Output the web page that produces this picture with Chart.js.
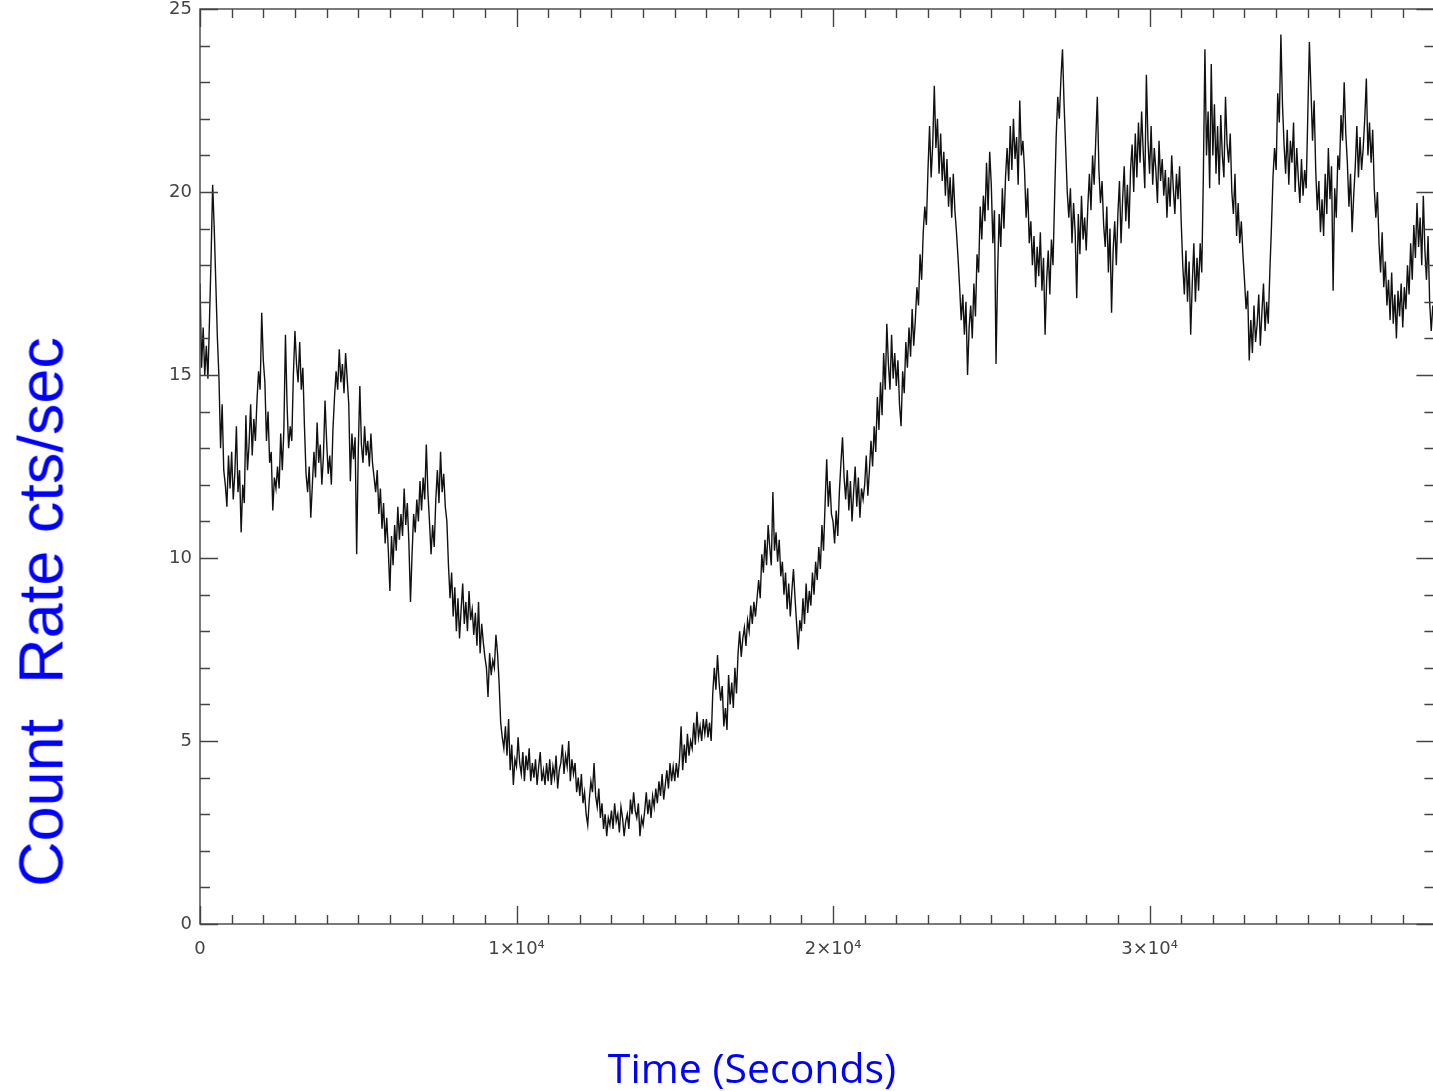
<!DOCTYPE html>
<html>
<head>
<meta charset="utf-8">
<title>Count Rate light curve</title>
<script src="https://cdn.jsdelivr.net/npm/chart.js@4/dist/chart.umd.min.js"></script>
<style>
  html, body { margin: 0; padding: 0; background: #ffffff; overflow: hidden; }
  #wrap { position: relative; width: 1433px; height: 1091px; overflow: hidden; background: #ffffff; }
  #plot { position: absolute; left: 0; top: 0; }
  .ytitle {
    position: absolute; left: 41px; top: 612px;
    font-family: "Liberation Sans", Arial, sans-serif; font-size: 63px; line-height: 1;
    color: #0000ff; white-space: pre;
    transform: translate(-50%, -50%) rotate(-90deg);
  }
  .xtitle {
    position: absolute; left: 752px; top: 1067px;
    font-family: "Open Sans", "Noto Sans", sans-serif; font-size: 41px; line-height: 1;
    color: #0000ff; white-space: pre;
    transform: translate(-50%, -50%);
  }
</style>
</head>
<body>
<div id="wrap">
  <canvas id="plot" width="1440" height="1091"></canvas>
  <div class="ytitle">Count  Rate cts/sec</div>
  <div class="xtitle">Time (Seconds)</div>
</div>
<script>
// Light curve: count rate in 50 s bins, starting at t = 0 s.
const binSeconds = 50;
const countRate = [
  // 0 - 950 s
  17.5, 15.2, 16.3, 15.0, 15.8, 14.9, 16.5, 18.2, 20.2, 19.0, 17.5, 16.0, 14.9, 13.0, 14.2, 12.4, 12.0, 11.4, 12.8, 11.9,
  // 1000 - 1950 s
  12.9, 11.6, 12.3, 13.6, 11.8, 12.4, 10.7, 12.0, 11.5, 13.9, 12.4, 13.1, 14.2, 12.8, 13.8, 13.2, 14.3, 15.1, 14.6, 16.7,
  // 2000 - 2950 s
  15.4, 14.8, 13.2, 14.0, 12.6, 12.9, 11.3, 12.2, 11.9, 12.5, 11.9, 13.4, 12.4, 13.5, 16.1, 14.2, 13.0, 13.6, 13.2, 15.0,
  // 3000 - 3950 s
  16.2, 15.3, 14.8, 15.9, 14.6, 15.2, 13.6, 12.3, 11.8, 12.5, 11.1, 12.0, 12.9, 12.2, 13.7, 12.6, 13.1, 12.0, 12.8, 14.3,
  // 4000 - 4950 s
  13.2, 12.3, 12.8, 12.0, 13.5, 14.4, 15.1, 14.6, 15.7, 14.8, 15.3, 14.5, 15.6, 14.9, 14.2, 12.1, 13.4, 12.7, 13.3, 10.1,
  // 5000 - 5950 s
  12.9, 14.7, 13.1, 12.6, 13.6, 12.8, 13.2, 12.5, 13.4, 12.6, 12.2, 11.8, 12.4, 11.2, 11.9, 10.8, 11.5, 10.4, 11.1, 10.2,
  // 6000 - 6950 s
  9.1, 10.6, 9.8, 10.9, 10.2, 11.4, 10.5, 11.2, 10.6, 11.9, 10.9, 11.5, 10.4, 8.8, 10.1, 11.2, 10.7, 11.6, 11.0, 12.1,
  // 7000 - 7950 s
  11.3, 12.2, 11.6, 13.1, 11.8, 11.0, 10.1, 10.9, 10.3, 11.6, 12.4, 11.5, 12.9, 11.8, 12.3, 11.4, 11.0, 9.8, 8.9, 9.6,
  // 8000 - 8950 s
  8.4, 9.2, 8.0, 8.9, 7.8, 8.6, 9.3, 8.2, 8.8, 8.0, 9.1, 8.3, 8.6, 7.9, 8.5, 7.6, 8.8, 7.4, 8.2, 7.7,
  // 9000 - 9950 s
  7.3, 7.0, 6.2, 7.4, 6.8, 7.2, 7.0, 7.9, 7.4, 6.6, 5.5, 5.1, 4.8, 5.4, 4.6, 5.6, 4.2, 4.9, 3.8, 4.5,
  // 10000 - 10950 s
  4.3, 5.1, 4.4, 4.1, 4.7, 3.9, 4.6, 4.2, 4.8, 3.9, 4.4, 4.0, 4.5, 3.8, 4.3, 4.7, 3.9, 4.2, 3.8, 4.4,
  // 11000 - 11950 s
  3.9, 4.5, 3.8, 4.3, 4.0, 4.6, 3.7, 4.2, 4.4, 4.9, 4.1, 4.6, 4.3, 5.0, 3.9, 4.5, 4.1, 4.4, 3.6, 4.0,
  // 12000 - 12950 s
  3.5, 4.1, 3.3, 3.6, 3.0, 2.7, 3.4, 3.9, 3.6, 4.4, 3.5, 3.2, 3.7, 2.9, 3.3, 2.6, 3.0, 2.4, 2.9, 2.7,
  // 13000 - 13950 s
  3.1, 2.6, 3.3, 2.8, 3.0, 2.5, 3.2, 2.9, 2.4, 2.8, 3.0, 2.6, 3.4, 3.0, 3.6, 3.1, 2.9, 3.3, 2.4, 2.9,
  // 14000 - 14950 s
  2.7, 3.1, 3.6, 3.0, 3.4, 2.9, 3.5, 3.2, 3.7, 3.3, 3.9, 3.5, 4.1, 3.4, 3.8, 4.2, 3.7, 4.4, 3.9, 4.3,
  // 15000 - 15950 s
  3.9, 4.4, 4.0, 4.5, 5.4, 4.2, 4.9, 4.4, 5.2, 4.6, 5.0, 4.8, 5.5, 4.9, 5.8, 5.1, 5.4, 5.0, 5.6, 5.2,
  // 16000 - 16950 s
  5.6, 5.1, 5.5, 5.0, 6.3, 7.0, 6.4, 7.35, 6.6, 6.1, 6.5, 5.4, 5.9, 5.3, 6.8, 6.0, 6.6, 5.9, 7.0, 6.3,
  // 17000 - 17950 s
  7.4, 8.0, 7.3, 7.8, 8.1, 7.6, 8.3, 8.0, 8.7, 8.2, 8.8, 8.4, 8.9, 9.4, 8.9, 10.1, 9.6, 10.5, 9.8, 10.9,
  // 18000 - 18950 s
  10.3, 9.8, 11.8, 10.2, 10.7, 9.9, 10.5, 9.5, 9.9, 9.0, 9.6, 8.6, 9.3, 8.4, 9.1, 9.7, 8.9, 8.2, 7.5, 8.3,
  // 19000 - 19950 s
  8.0, 8.9, 8.2, 9.3, 8.5, 9.1, 8.7, 9.6, 9.0, 9.9, 9.4, 10.3, 9.7, 10.9, 10.2, 11.5, 12.7, 11.4, 12.1, 11.2,
  // 20000 - 20950 s
  11.0, 10.4, 11.3, 10.6, 11.8, 12.6, 13.3, 12.2, 11.6, 12.4, 11.3, 12.1, 11.0, 11.8, 12.5, 11.4, 12.2, 11.1, 11.9, 11.6,
  // 21000 - 21950 s
  12.0, 12.8, 11.7, 12.4, 13.2, 12.5, 13.6, 12.9, 14.4, 13.5, 14.8, 13.9, 15.6, 14.6, 16.4, 15.3, 14.6, 16.1, 14.9, 15.6,
  // 22000 - 22950 s
  14.7, 15.4, 14.2, 13.6, 15.1, 14.5, 15.9, 15.2, 16.3, 15.5, 16.8, 15.8, 16.5, 17.4, 16.9, 18.3, 17.6, 18.9, 19.6, 19.1,
  // 23000 - 23950 s
  20.6, 21.8, 20.4, 21.3, 22.9, 21.2, 22.0, 20.5, 21.6, 20.3, 21.1, 19.9, 20.9, 19.6, 20.4, 19.3, 20.5, 19.5, 18.9, 18.2,
  // 24000 - 24950 s
  17.4, 16.5, 17.2, 16.1, 17.0, 15.0, 16.3, 16.9, 16.0, 17.5, 16.6, 18.3, 17.8, 19.6, 18.7, 19.9, 19.2, 20.8, 19.5, 21.1,
  // 25000 - 25950 s
  20.2, 18.6, 19.5, 15.3, 17.8, 19.4, 18.5, 20.1, 19.0, 20.4, 21.2, 20.3, 21.8, 20.6, 22.0, 20.9, 21.5, 20.2, 22.5, 21.0,
  // 26000 - 26950 s
  21.4, 20.6, 19.3, 20.1, 18.6, 19.2, 18.0, 18.8, 17.4, 18.5, 17.7, 18.9, 17.3, 18.2, 16.1, 17.6, 18.4, 17.2, 18.7, 18.0,
  // 27000 - 27950 s
  19.8, 21.5, 22.6, 22.0, 23.1, 23.9, 22.4, 21.2, 20.0, 19.3, 20.1, 18.6, 19.7, 18.9, 17.1, 19.4, 18.3, 19.9, 18.7, 19.3,
  // 28000 - 28950 s
  18.4, 19.6, 20.5, 19.5, 21.0, 20.2, 21.4, 22.6, 20.6, 19.7, 20.3, 19.1, 18.5, 19.6, 17.8, 19.0, 16.7, 18.4, 19.2, 18.0,
  // 29000 - 29950 s
  19.4, 20.3, 18.6, 19.8, 20.7, 19.2, 20.2, 19.0, 20.6, 21.3, 20.0, 21.6, 20.4, 21.9, 20.8, 22.2, 21.1, 20.1, 23.2, 21.4,
  // 30000 - 30950 s
  20.5, 21.8, 20.2, 21.2, 20.6, 19.7, 21.4, 20.3, 20.9, 19.9, 20.6, 19.3, 20.4, 19.6, 21.0, 20.1, 19.4, 20.5, 19.8, 20.7,
  // 31000 - 31950 s
  19.2, 18.0, 17.2, 18.4, 17.0, 18.1, 16.1, 17.5, 18.6, 17.0, 18.2, 17.3, 18.6, 17.8, 20.4, 23.9, 21.0, 22.2, 20.1, 23.5,
  // 32000 - 32950 s
  21.0, 22.4, 20.5, 21.8, 20.2, 22.1, 21.0, 20.4, 22.6, 21.3, 20.8, 21.6, 20.0, 19.4, 20.5, 18.8, 19.7, 18.6, 19.2, 18.3,
  // 33000 - 33950 s
  17.6, 16.8, 17.3, 15.4, 16.5, 15.6, 16.9, 15.9, 16.4, 17.2, 15.8, 16.7, 17.5, 16.2, 17.0, 16.4, 17.8, 19.0, 20.4, 21.2,
  // 34000 - 34950 s
  20.6, 22.7, 21.9, 24.3, 22.4, 21.3, 20.5, 21.7, 20.2, 21.4, 20.8, 21.9, 20.0, 21.2, 20.4, 19.7, 20.9, 19.9, 20.6, 20.1,
  // 35000 - 35950 s
  22.1, 24.1, 22.8, 21.4, 22.5, 20.6, 19.5, 20.3, 18.9, 19.8, 18.8, 20.5, 19.4, 21.2, 19.8, 20.7, 17.3, 20.1, 19.3, 21.0,
  // 36000 - 36950 s
  20.6, 22.1, 21.4, 23.0, 21.6, 20.8, 19.6, 20.5, 18.9, 19.9, 20.7, 21.8, 20.4, 21.5, 20.6, 21.2, 22.0, 23.1, 21.0, 21.9,
  // 37000 - 37950 s
  20.8, 21.7, 20.1, 19.3, 20.0, 18.6, 17.8, 18.9, 17.4, 18.1, 16.9, 17.6, 16.5, 17.8, 16.4, 17.2, 16.0, 17.3, 16.6, 17.5,
  // 38000 - 38950 s
  16.3, 17.4, 16.8, 18.0, 17.2, 18.6, 17.6, 19.1, 18.2, 19.7, 18.5, 19.3, 18.0, 19.9, 18.4, 17.6, 18.8, 17.0, 16.2, 16.9
];

// Axis ranges and ticks
const timeRange = [0, 39000];
const rateRange = [0, 25];
const timeTickValues = [0, 10000, 20000, 30000];
const timeTickLabels = ['0', '1\u00d710\u2074', '2\u00d710\u2074', '3\u00d710\u2074'];
const rateTickValues = [0, 5, 10, 15, 20, 25];
const rateTickLabels = ['0', '5', '10', '15', '20', '25'];
const timeMinorStep = 1000;
const rateMinorStep = 1;

const points = countRate.map((v, i) => ({ x: i * binSeconds, y: v }));

// Box frame with inward-pointing major and minor ticks on all four sides
const frameTicks = {
  id: 'frameTicks',
  afterDatasetsDraw(chart) {
    const { ctx, chartArea: a, scales } = chart;
    const xs = scales.x, ys = scales.y;
    ctx.save();
    ctx.strokeStyle = '#444';
    ctx.lineWidth = 1.4;
    ctx.strokeRect(a.left, a.top, a.right - a.left, a.bottom - a.top);
    ctx.beginPath();
    for (let t = timeRange[0]; t <= timeRange[1]; t += timeMinorStep) {
      const px = Math.round(xs.getPixelForValue(t)) + 0.5;
      const len = timeTickValues.includes(t) ? 18 : 9;
      ctx.moveTo(px, a.bottom); ctx.lineTo(px, a.bottom - len);
      ctx.moveTo(px, a.top); ctx.lineTo(px, a.top + len);
    }
    for (let v = rateRange[0]; v <= rateRange[1]; v += rateMinorStep) {
      const py = Math.round(ys.getPixelForValue(v)) + 0.5;
      const len = rateTickValues.includes(v) ? 18 : 10;
      ctx.moveTo(a.left, py); ctx.lineTo(a.left + len, py);
      ctx.moveTo(a.right, py); ctx.lineTo(a.right - len, py);
    }
    ctx.stroke();
    ctx.restore();
  }
};

const tickFont = { family: 'DejaVu Sans', size: 18 };

new Chart(document.getElementById('plot'), {
  type: 'line',
  data: {
    datasets: [{
      data: points,
      borderColor: '#111111',
      borderWidth: 1.4,
      pointRadius: 0,
      tension: 0,
      fill: false
    }]
  },
  options: {
    responsive: false,
    animation: false,
    devicePixelRatio: 1,
    parsing: false,
    normalized: true,
    layout: { padding: { left: 0, top: 9, right: 5.6, bottom: 0 } },
    plugins: { legend: { display: false }, tooltip: { enabled: false } },
    scales: {
      x: {
        type: 'linear',
        min: timeRange[0],
        max: timeRange[1],
        afterBuildTicks: s => { s.ticks = timeTickValues.map(v => ({ value: v })); },
        afterFit: s => { s.height = 167; s.paddingLeft = 0; s.paddingRight = 0; },
        grid: { display: false, drawTicks: false },
        border: { display: false },
        ticks: {
          autoSkip: false, maxRotation: 0, padding: 15,
          color: '#444', font: tickFont,
          callback: v => timeTickLabels[timeTickValues.indexOf(v)]
        }
      },
      y: {
        type: 'linear',
        min: rateRange[0],
        max: rateRange[1],
        afterBuildTicks: s => { s.ticks = rateTickValues.map(v => ({ value: v })); },
        afterFit: s => { s.width = 200; s.paddingTop = 0; s.paddingBottom = 0; },
        grid: { display: false, drawTicks: false },
        border: { display: false },
        ticks: {
          autoSkip: false, padding: 8,
          color: '#444', font: tickFont,
          callback: v => rateTickLabels[rateTickValues.indexOf(v)]
        }
      }
    }
  },
  plugins: [frameTicks]
});
</script>
</body>
</html>
